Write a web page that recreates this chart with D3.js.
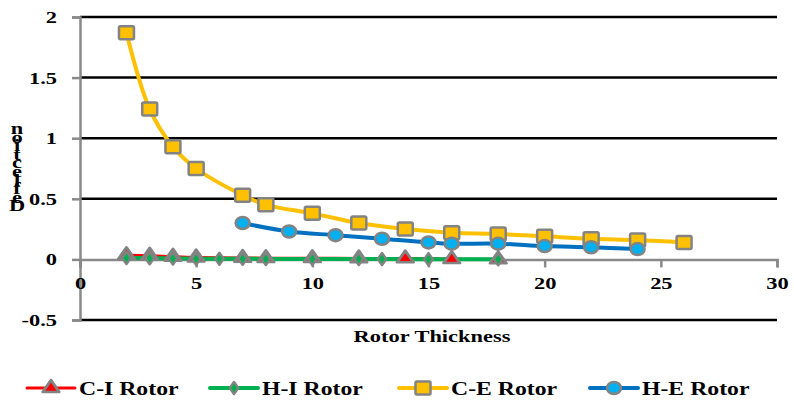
<!DOCTYPE html>
<html>
<head>
<meta charset="utf-8">
<script src="https://cdn.jsdelivr.net/npm/d3@7"></script>
<style>
  body { margin: 0; background: #fff; }
  svg text { font-family: "Liberation Serif", "DejaVu Serif", serif !important; font-weight: bold; fill: #000; }
</style>
</head>
<body>
<svg id="chart" width="794" height="400"></svg>
<script>
// series data, [thickness, deflection]
let ciRotor = [[2, 0.035], [3, 0.03], [4, 0.022], [5, 0.016], [7, 0.012], [8, 0.01], [10, 0.01], [12, 0.008], [14, 0.008], [16, 0.002], [18, 0.0]];
let hiRotor = [[2, 0.012], [3, 0.01], [4, 0.008], [5, 0.006], [6, 0.005], [7, 0.005], [8, 0.004], [10, 0.004], [12, 0.003], [13, 0.003], [15, 0.002], [18, 0.001]];
let ceRotor = [[2, 1.87], [3, 1.24], [4, 0.93], [5, 0.75], [7, 0.53], [8, 0.45], [10, 0.38], [12, 0.30], [14, 0.25], [16, 0.22], [18, 0.21], [20, 0.19], [22, 0.17], [24, 0.16], [26, 0.14]];
let heRotor = [[7, 0.30], [9, 0.23], [11, 0.20], [13, 0.17], [15, 0.14], [16, 0.13], [18, 0.13], [20, 0.11], [22, 0.10], [24, 0.085]];

let xTicks = [0, 5, 10, 15, 20, 25, 30];
let yTicks = [-0.5, 0, 0.5, 1, 1.5, 2];
let seriesNames = ["C-I Rotor", "H-I Rotor", "C-E Rotor", "H-E Rotor"];
let yTitle = "Deflection";

let svg = d3.select('#chart');

let x = d3.scaleLinear().domain([0, 30]).range([80, 777]);
let y = d3.scaleLinear().domain([-0.5, 2]).range([320, 17]);

let stretch = 1.32; // text in the picture is drawn wide

// gridlines (skip the zero line, that one is the axis)
svg.append("g")
  .selectAll("line")
  .data(yTicks.filter(d => d != 0))
  .enter().append("line")
  .attr("x1", x(0)).attr("x2", x(30))
  .attr("y1", d => y(d)).attr("y2", d => y(d))
  .attr("stroke", "#000").attr("stroke-width", 2.5);

// y axis
let yAxis = svg.append("g").attr("transform", `translate(${x(0)},0)`)
  .call(d3.axisLeft(y).tickValues(yTicks).tickSize(8).tickPadding(14).tickFormat(d => String(d)));
yAxis.select(".domain").attr("stroke", "#898989").attr("stroke-width", 2.5);
yAxis.selectAll(".tick line").attr("stroke", "#898989").attr("stroke-width", 2.5);
yAxis.selectAll(".tick text").attr("font-size", "17px")
  .attr("x", 0)
  .attr("transform", `translate(-23,0) scale(${stretch},1)`);

// x axis at y = 0
let xAxis = svg.append("g").attr("transform", `translate(0,${y(0)})`)
  .call(d3.axisBottom(x).tickValues(xTicks).tickSize(8).tickPadding(10).tickFormat(d => String(d)));
xAxis.select(".domain").attr("stroke", "#898989").attr("stroke-width", 2.5);
xAxis.selectAll(".tick line").attr("stroke", "#898989").attr("stroke-width", 2.5);
xAxis.selectAll(".tick text").attr("font-size", "17px")
  .attr("transform", `scale(${stretch},1)`);

// axis titles
svg.append("text")
  .attr("transform", `translate(432,342) scale(${stretch},1)`)
  .attr("text-anchor", "middle")
  .attr("font-size", "17px")
  .text("Rotor Thickness");

svg.append("g").selectAll("text")
  .data(yTitle.split("").reverse())
  .enter().append("text")
  .attr("transform", (d, i) => `translate(17,${134 + i * 8.6}) scale(${stretch},1)`)
  .attr("text-anchor", "middle")
  .attr("font-size", "17px")
  .text(d => d);

let line = d3.line()
  .curve(d3.curveCatmullRom.alpha(0.5))
  .x(d => x(d[0]))
  .y(d => y(d[1]));

let gray = "#838383";

let tri = d3.symbol().type(d3.symbolTriangle).size(80);
let dia = d3.symbol().type(d3.symbolDiamond).size(45);

let series = [
  {data: ceRotor, color: "#FFC000", width: 4, fill: "#FFC000", kind: "square", sw: 2.5},
  {data: heRotor, color: "#0070C0", width: 4, fill: "#00B0F0", kind: "circle", sw: 2.5},
  {data: ciRotor, color: "#FF0000", width: 3, fill: "#FF0000", kind: "tri", sw: 2.5},
  {data: hiRotor, color: "#00B050", width: 4, fill: "#00B050", kind: "dia", sw: 2}
];

series.forEach(s => {
  svg.append("path")
    .datum(s.data)
    .attr("fill", "none")
    .attr("stroke", s.color)
    .attr("stroke-width", s.width)
    .attr("stroke-linecap", "round")
    .attr("d", line);
});

function drawMarker(g, s, cx, cy) {
  if (s.kind == "circle") {
    g.append("ellipse").attr("cx", cx).attr("cy", cy).attr("rx", 7).attr("ry", 6)
      .attr("fill", s.fill).attr("stroke", gray).attr("stroke-width", s.sw);
  } else if (s.kind == "square") {
    g.append("rect").attr("x", cx - 7.5).attr("y", cy - 6.5).attr("width", 15).attr("height", 13)
      .attr("rx", 1.5)
      .attr("fill", s.fill).attr("stroke", gray).attr("stroke-width", s.sw);
  } else {
    g.append("path").attr("d", (s.kind == "tri" ? tri : dia)())
      .attr("transform", `translate(${cx},${cy}) scale(1.2,1)`)
      .attr("fill", s.fill).attr("stroke", gray).attr("stroke-width", s.sw)
      .attr("stroke-linejoin", "round");
  }
}

series.forEach(s => {
  let g = svg.append("g");
  s.data.forEach(d => drawMarker(g, s, x(d[0]), y(d[1])));
});

// legend
let legendItems = [
  {name: seriesNames[0], s: series[2], x0: 27},
  {name: seriesNames[1], s: series[3], x0: 210},
  {name: seriesNames[2], s: series[0], x0: 399},
  {name: seriesNames[3], s: series[1], x0: 590}
];
let legend = svg.append("g");
legendItems.forEach(it => {
  legend.append("line")
    .attr("x1", it.x0).attr("x2", it.x0 + 48)
    .attr("y1", 388).attr("y2", 388)
    .attr("stroke", it.s.color).attr("stroke-width", it.s.width)
    .attr("stroke-linecap", "round");
  drawMarker(legend, it.s, it.x0 + 24, 388);
  legend.append("text")
    .attr("transform", `translate(${it.x0 + 52},395) scale(${stretch},1)`)
    .attr("font-size", "18px")
    .text(it.name);
});
</script>
</body>
</html>
